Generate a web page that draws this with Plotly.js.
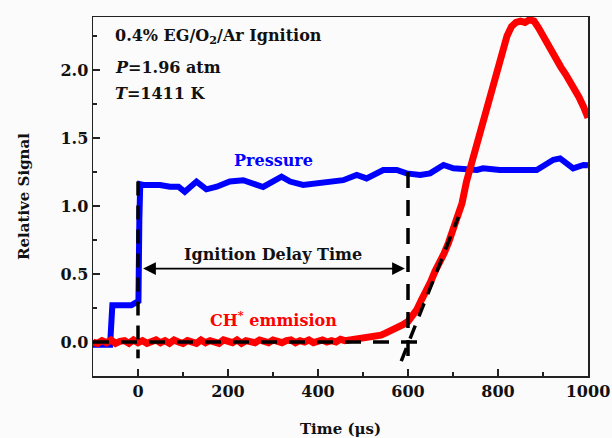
<!DOCTYPE html>
<html>
<head>
<meta charset="utf-8">
<script src="https://cdn.plot.ly/plotly-3.0.1.min.js"></script>
<style>html,body{margin:0;padding:0;background:#fbfbfb;}#chart{width:612px;height:438px;}</style>
</head>
<body>
<div id="chart"></div>
<script>
// ---- Data ----
// Pressure trace (blue)
const pressureTime = [-100,-62,-57,-15,-5,1,3,5,12,49,71,90,104,130,152,175,204,234,264,278,319,338,367,412,456,486,508,545,575,597,627,649,679,701,753,767,804,886,923,938,967,990,1000];
const pressureSignal = [-0.02,-0.02,0.27,0.27,0.29,0.30,0.90,1.16,1.155,1.155,1.142,1.142,1.105,1.18,1.123,1.142,1.18,1.19,1.155,1.14,1.216,1.18,1.155,1.175,1.19,1.228,1.203,1.265,1.265,1.24,1.228,1.24,1.302,1.277,1.265,1.277,1.265,1.265,1.34,1.35,1.277,1.302,1.30];

// CH* emission trace (red), sampled every 10 us from -100 to 1000
const chTime = [-100,-90,-80,-70,-60,-50,-40,-30,-20,-10,0,10,20,30,40,50,60,70,80,90,100,110,120,130,140,150,160,170,180,190,200,210,220,230,240,250,260,270,280,290,300,310,320,330,340,350,360,370,380,390,400,410,420,430,440,450,460,470,480,490,500,510,520,530,540,550,560,570,580,590,600,610,620,630,640,650,660,670,680,690,700,710,720,730,740,750,760,770,780,790,800,810,820,830,840,850,860,870,880,890,900,910,920,930,940,950,960,970,980,990,1000];
const chSignal = [0.00,-0.01,0.01,-0.005,0.015,-0.01,0.005,0.01,-0.01,0.015,-0.005,0.01,-0.01,0.005,0.015,-0.005,0.01,-0.01,0.015,0.00,-0.01,0.01,0.005,-0.01,0.015,-0.005,0.01,0.00,-0.01,0.015,0.005,-0.005,0.015,-0.01,0.01,0.005,-0.005,0.015,0.00,-0.005,0.015,0.005,-0.005,0.01,0.015,-0.005,0.01,0.00,0.015,-0.005,0.01,0.015,0.00,0.01,0.00,0.02,0.01,0.015,0.01,0.025,0.02,0.035,0.03,0.045,0.05,0.065,0.08,0.09,0.11,0.13,0.15,0.19,0.24,0.31,0.37,0.44,0.52,0.58,0.65,0.73,0.82,0.92,1.02,1.18,1.30,1.43,1.55,1.69,1.81,1.93,2.05,2.16,2.25,2.32,2.35,2.36,2.35,2.37,2.36,2.31,2.25,2.18,2.12,2.07,2.02,1.97,1.92,1.86,1.80,1.73,1.65];

// Construction guide lines [x0, y0, x1, y1]
const guideStart = [[0, 1.18, 0, -0.12]];
const guideIgnition = [[600, 1.25, 600, -0.155]];
const guideBaseline = [[-100, 0, 640, 0]];
const guideTangent = [[585, -0.14, 712, 0.92]];

// Delay-time arrow ends and text labels
const arrowX = [8, 593];
const arrowY = 0.54;
const conditionText = ["0.4% EG/O<sub>2</sub>/Ar Ignition", "<i>P</i>=1.96 atm", "<i>T</i>=1411 K"];
const conditionY = [2.245, 2.015, 1.83];
const conditionX = -56;

const xTickVals = [0, 200, 400, 600, 800, 1000];
const yTickVals = [0.0, 0.5, 1.0, 1.5, 2.0];

// ---- Figure ----
const FONT = "DejaVu Serif";
const ink = "#111111";

const traces = [
  {x: pressureTime, y: pressureSignal, type: "scatter", mode: "lines",
   line: {color: "#0000ff", width: 6}, hoverinfo: "skip", showlegend: false},
  {x: chTime, y: chSignal, type: "scatter", mode: "lines",
   line: {color: "#ff0000", width: 7}, hoverinfo: "skip", showlegend: false}
];

function dashed(seg, dash) {
  return seg.map(s => ({type: "line", xref: "x", yref: "y",
    x0: s[0], y0: s[1], x1: s[2], y1: s[3],
    line: {color: "#000", width: 3.5, dash: dash}}));
}
const shapes = [].concat(
  dashed(guideStart, "14px,10px"),
  dashed(guideIgnition, "16px,12px"),
  dashed(guideBaseline, "16px,12px"),
  dashed(guideTangent, "14px,10px")
);

const annotations = [];
conditionText.forEach((t, i) => annotations.push({
  x: conditionX, y: conditionY[i], xref: "x", yref: "y", text: t,
  xanchor: "left", yanchor: "middle", showarrow: false,
  font: {family: FONT, size: 16, color: ink, weight: "bold"}
}));
annotations.push({x: 301, y: 1.338, xref: "x", yref: "y", text: "Pressure",
  showarrow: false, font: {family: FONT, size: 16, color: "#0000ff", weight: "bold"}});
annotations.push({x: 299, y: 0.645, xref: "x", yref: "y", text: "Ignition Delay Time",
  showarrow: false, font: {family: FONT, size: 16, color: ink, weight: "bold"}});
annotations.push({x: 301, y: 0.17, xref: "x", yref: "y", text: "CH<sup>*</sup> emmision",
  showarrow: false, font: {family: FONT, size: 16, color: "#ff0000", weight: "bold"}});
annotations.push({x: arrowX[1], y: arrowY, ax: arrowX[0], ay: arrowY,
  xref: "x", yref: "y", axref: "x", ayref: "y", text: "", showarrow: true,
  arrowside: "end+start", arrowhead: 2, arrowsize: 1.5, arrowwidth: 1.7, arrowcolor: "#000"});

const axisCommon = {
  showgrid: false, zeroline: false, showline: true, mirror: true,
  linecolor: "#222", linewidth: 1.5, ticks: "inside", ticklen: 7, tickwidth: 1.3,
  tickcolor: "#222",
  tickfont: {family: FONT, size: 16, color: ink, weight: "bold"}
};

const layout = {
  width: 612, height: 438,
  margin: {l: 93, r: 24, t: 17, b: 62},
  paper_bgcolor: "#fbfbfb", plot_bgcolor: "#fbfbfb",
  showlegend: false,
  xaxis: Object.assign({}, axisCommon, {
    range: [-100, 1000], tickvals: xTickVals,
    minor: {dtick: 100, tick0: 0, ticks: "inside", ticklen: 4, tickcolor: "#222", tickwidth: 1.2},
    title: {text: "Time (μs)", standoff: 24, font: {family: FONT, size: 15, color: ink, weight: "bold"}}
  }),
  yaxis: Object.assign({}, axisCommon, {
    range: [-0.25, 2.39], tickvals: yTickVals, tickformat: ".1f",
    minor: {dtick: 0.25, tick0: 0, ticks: "inside", ticklen: 4, tickcolor: "#222", tickwidth: 1.2},
    title: {text: "Relative Signal", standoff: 27, font: {family: FONT, size: 15, color: ink, weight: "bold"}}
  }),
  shapes: shapes,
  annotations: annotations
};

Plotly.newPlot("chart", traces, layout, {staticPlot: true, displayModeBar: false});
</script>
</body>
</html>
